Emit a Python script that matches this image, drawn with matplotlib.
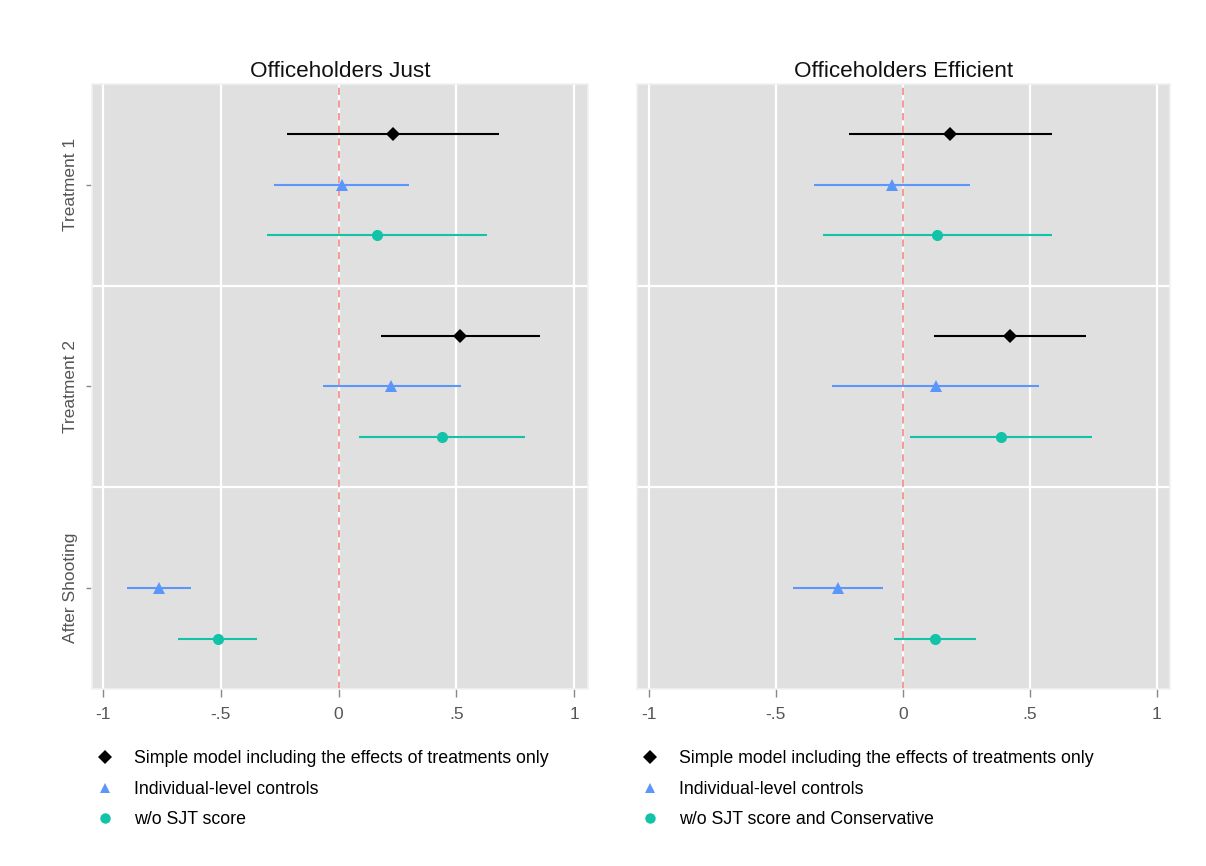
import matplotlib
matplotlib.use("Agg")
import matplotlib.pyplot as plt
from matplotlib.lines import Line2D
import numpy as np

plt.rcParams['font.family'] = ['Liberation Sans', 'DejaVu Sans']

groups = ["Treatment 1", "Treatment 2", "After Shooting"]
titles = ["Officeholders Just", "Officeholders Efficient"]

# Left panel: Officeholders Just  (estimate, lower, upper); None = not estimated
just_simple = [(0.232, -0.218, 0.683), (0.515, 0.179, 0.854), None]
just_indiv = [(0.015, -0.274, 0.300), (0.224, -0.068, 0.519), (-0.763, -0.898, -0.627)]
just_wosjt = [(0.162, -0.303, 0.628), (0.440, 0.086, 0.793), (-0.512, -0.680, -0.345)]

# Right panel: Officeholders Efficient
eff_simple = [(0.187, -0.212, 0.588), (0.420, 0.122, 0.722), None]
eff_indiv = [(-0.043, -0.350, 0.264), (0.129, -0.279, 0.537), (-0.257, -0.434, -0.080)]
eff_wosjt = [(0.134, -0.315, 0.588), (0.385, 0.029, 0.743), (0.126, -0.037, 0.288)]

legend_left = ["Simple model including the effects of treatments only",
               "Individual-level controls", "w/o SJT score"]
legend_right = ["Simple model including the effects of treatments only",
                "Individual-level controls", "w/o SJT score and Conservative"]

xticks = [-1, -0.5, 0, 0.5, 1]
xticklabels = ["-1", "-.5", "0", ".5", "1"]

colors = ["#000000", "#5B97FA", "#10C3A9"]
markers = ["D", "^", "o"]
msizes = [7.5, 8, 8]
offsets = [-0.25, 0.0, 0.25]

fig = plt.figure(figsize=(12.06, 8.66), dpi=100)
axL = fig.add_axes([0.0763, 0.2044, 0.4113, 0.6986])
axR = fig.add_axes([0.5282, 0.2044, 0.4420, 0.6986])

panels = [
    (axL, [just_simple, just_indiv, just_wosjt], titles[0], legend_left, (-1.047, 1.059)),
    (axR, [eff_simple, eff_indiv, eff_wosjt], titles[1], legend_right, (-1.047, 1.052)),
]

for i, (ax, series, title, leglabels, xlim) in enumerate(panels):
    ax.set_facecolor("#E0E0E0")
    ax.set_xlim(*xlim)
    ax.set_ylim(3.5, 0.5)
    for xt in xticks:
        ax.axvline(xt, color="white", lw=1.6, zorder=1)
    for yb in [1.5, 2.5]:
        ax.axhline(yb, color="white", lw=1.6, zorder=1)
    ax.axvline(0, color="#F4918A", lw=1.3, ls=(0, (4, 3)), zorder=2)
    for s, data in enumerate(series):
        for g, d in enumerate(data):
            if d is None:
                continue
            est, lo, hi = d
            y = g + 1 + offsets[s]
            ax.plot([lo, hi], [y, y], color=colors[s], lw=1.5, zorder=3,
                    solid_capstyle="butt")
            ax.plot([est], [y], marker=markers[s], color=colors[s], ms=msizes[s],
                    ls="none", zorder=4, markeredgewidth=0)
    ax.set_title(title, fontsize=16.2, pad=5, color="#111111")
    ax.set_xticks(xticks)
    ax.set_xticklabels(xticklabels, fontsize=12.5, color="#555555")
    ax.tick_params(axis="x", direction="out", length=6, width=1, color="#888888", pad=7)
    for sp in ax.spines.values():
        sp.set_color("#F2F2F2")
        sp.set_linewidth(1.2)
    if i == 0:
        ax.set_yticks([1, 2, 3])
        ax.set_yticklabels(groups, rotation=90, va="center", fontsize=12.5, color="#555555")
        ax.tick_params(axis="y", direction="out", length=4, width=1, color="#888888", pad=6)
    else:
        ax.set_yticks([])
    handles = [Line2D([], [], marker=markers[k], color=colors[k], ls="none",
                      ms=msizes[k] - 0.5, markeredgewidth=0) for k in range(3)]
    ax.legend(handles, leglabels, loc="upper left", bbox_to_anchor=(0.008, -0.1016),
              frameon=False, fontsize=12.8, handletextpad=1.13, labelspacing=0.75,
              handlelength=1.0, borderaxespad=0, borderpad=0)

fig.savefig("out.png", dpi=100, facecolor="white")
